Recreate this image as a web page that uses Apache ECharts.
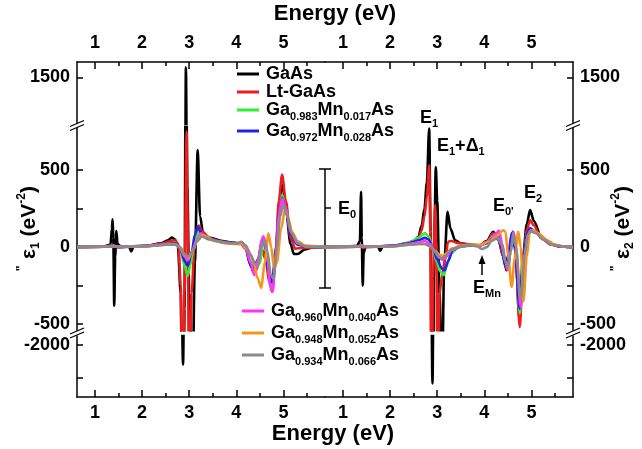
<!DOCTYPE html>
<html>
<head>
<meta charset="utf-8">
<script src="https://cdn.jsdelivr.net/npm/echarts@6.0.0/dist/echarts.min.js"></script>
<style>
  html, body { margin: 0; padding: 0; background: #fff; }
  #chart { width: 642px; height: 449px; }
</style>
</head>
<body>
<div id="chart"></div>
<script>
// ---- data ----
const seriesNames = ['GaAs', 'Lt-GaAs', 'Ga0.983Mn0.017As', 'Ga0.972Mn0.028As',
  'Ga0.960Mn0.040As', 'Ga0.948Mn0.052As', 'Ga0.934Mn0.066As'];
const seriesColors = ['#000000', '#ee1c1c', '#33ee33', '#2222ee', '#ff33ff', '#f7941d', '#8a8a8a'];

const xTicks = [1, 2, 3, 4, 5];
const xMinorTicks = [1.5, 2.5, 3.5, 4.5, 5.5];
const yTicksTop = [1500];
const yTicksMid = [-500, -250, 0, 250, 500];
const yLabelsMid = [-500, 0, 500];
const yTicksBot = [-2500, -2000];
const yLabelsBot = [-2000];

// left panel: second derivative of eps1 (eV^-2), [energy, value]
const L_GaAs = [[0.62,0],[0.9,3],[1.2,5],[1.33,15],[1.36,120],[1.375,180],[1.39,60],[1.41,-380],[1.43,-60],[1.455,105],[1.48,20],[1.55,5],[1.72,5],[1.77,-28],[1.82,2],[2.1,8],[2.4,25],[2.55,45],[2.63,62],[2.7,50],[2.76,0],[2.82,-300],[2.87,-2300],[2.9,-400],[2.93,1565],[2.96,400],[3.0,-300],[3.07,-900],[3.12,-100],[3.18,630],[3.23,200],[3.3,80],[3.45,60],[3.7,40],[3.9,30],[4.05,25],[4.12,30],[4.2,0],[4.3,-120],[4.38,-170],[4.46,-80],[4.55,-20],[4.62,-60],[4.7,-200],[4.76,-270],[4.84,-20],[4.9,250],[4.97,425],[5.05,250],[5.15,20],[5.22,-45],[5.3,-45],[5.45,-15],[5.6,-3],[5.88,0]];
const L_LtGaAs = [[0.62,0],[1.2,3],[1.4,6],[1.5,0],[2.1,8],[2.4,22],[2.6,38],[2.7,45],[2.77,20],[2.82,-250],[2.86,-1300],[2.9,-300],[2.945,750],[2.97,100],[3.0,-1300],[3.05,-300],[3.12,60],[3.2,140],[3.28,100],[3.45,55],[3.7,35],[3.9,25],[4.1,20],[4.2,-10],[4.3,-110],[4.4,-160],[4.48,-110],[4.55,-20],[4.62,-80],[4.7,-230],[4.76,-290],[4.84,0],[4.9,300],[4.97,470],[5.05,300],[5.15,60],[5.25,-10],[5.4,-5],[5.88,0]];
const L_983 = [[0.62,0],[1.2,3],[1.4,8],[1.5,2],[2.1,8],[2.5,20],[2.7,28],[2.8,0],[2.9,-120],[2.97,-185],[3.03,-110],[3.1,20],[3.2,105],[3.27,80],[3.4,50],[3.7,35],[3.9,25],[4.1,22],[4.2,0],[4.3,-90],[4.4,-140],[4.5,-100],[4.58,40],[4.63,10],[4.7,-180],[4.76,-260],[4.84,-30],[4.9,200],[4.97,340],[5.05,250],[5.15,90],[5.3,20],[5.5,3],[5.88,0]];
const L_972 = [[0.62,0],[1.2,3],[1.4,5],[1.5,0],[2.1,8],[2.5,20],[2.7,25],[2.8,0],[2.9,-90],[2.97,-120],[3.05,-40],[3.12,80],[3.18,132],[3.26,90],[3.4,55],[3.7,35],[3.9,25],[4.1,22],[4.2,-10],[4.28,-100],[4.36,-140],[4.46,-80],[4.55,50],[4.6,20],[4.68,-150],[4.76,-230],[4.84,-20],[4.9,200],[4.97,320],[5.05,240],[5.15,80],[5.3,15],[5.5,2],[5.88,0]];
const L_960 = [[0.62,0],[1.2,3],[1.4,10],[1.5,2],[2.1,8],[2.5,18],[2.7,20],[2.8,0],[2.9,-60],[2.97,-85],[3.05,-40],[3.15,40],[3.25,90],[3.33,75],[3.5,45],[3.7,30],[3.9,22],[4.08,25],[4.2,-10],[4.3,-100],[4.38,-182],[4.46,-80],[4.55,60],[4.58,71],[4.65,-50],[4.72,-250],[4.77,-290],[4.84,-50],[4.9,200],[4.97,316],[5.05,250],[5.15,100],[5.3,25],[5.5,3],[5.88,0]];
const L_948 = [[0.62,0],[1.2,2],[1.5,2],[2.1,6],[2.5,15],[2.7,18],[2.8,0],[2.9,-50],[2.98,-70],[3.08,-20],[3.18,50],[3.28,80],[3.38,65],[3.55,40],[3.8,25],[4.0,20],[4.12,20],[4.25,-20],[4.35,-80],[4.45,-200],[4.53,-265],[4.6,-100],[4.68,88],[4.74,0],[4.8,-140],[4.86,-100],[4.95,120],[5.03,240],[5.1,190],[5.18,100],[5.3,40],[5.45,10],[5.88,0]];
const L_934 = [[0.62,0],[1.2,3],[1.5,3],[2.1,6],[2.5,15],[2.7,15],[2.8,0],[2.9,-45],[2.97,-63],[3.07,-25],[3.17,40],[3.27,70],[3.35,60],[3.55,40],[3.8,28],[4.0,22],[4.1,35],[4.2,10],[4.3,-50],[4.4,-110],[4.46,-120],[4.53,0],[4.6,50],[4.66,-30],[4.73,-180],[4.79,-205],[4.86,0],[4.93,200],[4.99,273],[5.07,210],[5.17,90],[5.3,25],[5.5,3],[5.88,0]];

// right panel: second derivative of eps2 (eV^-2)
const R_GaAs = [[0.62,0],[1.0,3],[1.3,8],[1.36,40],[1.385,360],[1.40,60],[1.42,-250],[1.44,-40],[1.48,5],[1.74,5],[1.79,-25],[1.84,3],[2.1,10],[2.35,25],[2.5,40],[2.6,65],[2.67,140],[2.73,250],[2.78,420],[2.83,770],[2.86,100],[2.9,-2590],[2.93,-200],[2.97,520],[3.0,300],[3.05,-300],[3.1,-900],[3.15,-100],[3.22,230],[3.28,120],[3.38,45],[3.5,25],[3.7,15],[3.9,12],[4.05,40],[4.19,100],[4.3,50],[4.4,-60],[4.47,-150],[4.54,-30],[4.6,100],[4.66,0],[4.74,-460],[4.82,-60],[4.9,150],[4.97,240],[5.05,170],[5.2,70],[5.4,20],[5.6,5],[5.88,0]];
const R_LtGaAs = [[0.62,0],[1.3,3],[1.39,15],[1.42,-5],[1.5,0],[2.1,8],[2.35,22],[2.5,35],[2.6,55],[2.67,110],[2.73,200],[2.78,330],[2.83,532],[2.855,100],[2.88,-1300],[2.91,-200],[2.955,273],[2.98,50],[3.01,-1200],[3.05,-300],[3.1,-190],[3.17,-80],[3.23,35],[3.3,40],[3.45,25],[3.7,15],[3.9,12],[4.05,35],[4.19,90],[4.3,45],[4.4,-60],[4.47,-140],[4.54,-30],[4.6,95],[4.66,0],[4.75,-520],[4.83,-60],[4.9,110],[4.97,175],[5.05,140],[5.2,60],[5.4,18],[5.6,4],[5.88,0]];
const R_983 = [[0.62,0],[1.3,3],[1.4,10],[1.5,2],[2.1,10],[2.4,30],[2.6,60],[2.74,91],[2.82,70],[2.9,0],[2.98,-90],[3.07,-160],[3.14,-182],[3.2,-120],[3.3,-40],[3.45,0],[3.7,12],[3.9,12],[4.05,30],[4.2,75],[4.3,85],[4.38,10],[4.46,-110],[4.52,-60],[4.6,90],[4.66,-20],[4.75,-430],[4.84,-50],[4.91,90],[4.97,122],[5.08,100],[5.25,50],[5.45,15],[5.7,3],[5.88,0]];
const R_972 = [[0.62,0],[1.3,3],[1.4,6],[1.5,2],[2.1,10],[2.4,25],[2.6,45],[2.74,60],[2.82,50],[2.9,0],[3.0,-80],[3.1,-140],[3.16,-150],[3.23,-90],[3.33,-20],[3.5,5],[3.7,10],[3.9,10],[4.05,25],[4.2,65],[4.28,70],[4.36,0],[4.44,-120],[4.5,-60],[4.58,90],[4.64,0],[4.75,-400],[4.84,-40],[4.91,95],[4.97,122],[5.08,100],[5.25,50],[5.45,15],[5.7,3],[5.88,0]];
const R_960 = [[0.62,0],[1.3,3],[1.4,12],[1.5,2],[2.1,8],[2.4,20],[2.6,30],[2.74,40],[2.85,20],[2.95,-30],[3.05,-70],[3.12,-84],[3.2,-60],[3.3,-20],[3.5,5],[3.7,12],[3.9,10],[4.1,40],[4.25,90],[4.31,108],[4.38,20],[4.45,-100],[4.5,-150],[4.56,-20],[4.62,100],[4.67,0],[4.77,-390],[4.86,-40],[4.92,80],[4.98,110],[5.1,95],[5.25,50],[5.45,15],[5.7,3],[5.88,0]];
const R_948 = [[0.62,0],[1.3,2],[1.5,2],[2.1,6],[2.4,15],[2.6,20],[2.74,20],[2.85,5],[2.95,-25],[3.05,-50],[3.12,-58],[3.2,-40],[3.3,-10],[3.5,10],[3.7,15],[3.9,15],[4.1,35],[4.25,70],[4.4,110],[4.45,100],[4.5,-50],[4.58,-258],[4.64,-80],[4.72,100],[4.77,0],[4.83,-350],[4.9,-60],[4.96,90],[5.02,110],[5.15,90],[5.3,50],[5.5,15],[5.7,4],[5.88,0]];
const R_934 = [[0.62,0],[1.3,3],[1.5,3],[2.1,6],[2.4,15],[2.6,20],[2.74,20],[2.85,5],[2.95,-30],[3.05,-65],[3.1,-75],[3.18,-55],[3.3,-15],[3.5,5],[3.7,12],[3.85,5],[3.95,-12],[4.05,0],[4.15,40],[4.28,60],[4.36,20],[4.44,-90],[4.5,-130],[4.56,-30],[4.62,90],[4.67,0],[4.77,-346],[4.86,-40],[4.92,80],[4.98,103],[5.1,90],[5.25,50],[5.45,15],[5.7,3],[5.88,0]];

const leftPanel = [L_GaAs, L_LtGaAs, L_983, L_972, L_960, L_948, L_934];
const rightPanel = [R_GaAs, R_LtGaAs, R_983, R_972, R_960, R_948, R_934];

// ---- layout ----
const FONT = '"Liberation Sans", Arial, Helvetica, sans-serif';
const X_MIN = 0.62, X_MAX = 5.88;
const PANEL_LEFT = [77, 325];
const PANEL_W = 248;
// broken y axis: three stacked pieces
const pieces = [
  { top: 62, height: 62, min: 1200, max: 1600, ticks: yTicksTop, labels: yTicksTop },
  { top: 127, height: 203.3, min: -540, max: 780, ticks: yTicksMid, labels: yLabelsMid },
  { top: 336, height: 61, min: -2800, max: -1860, ticks: yTicksBot, labels: yLabelsBot }
];

const axisLineStyle = { color: '#000', width: 1.5 };
const labelStyle = { color: '#000', fontFamily: FONT, fontWeight: 'bold', fontSize: 18 };

const grid = [], xAxis = [], yAxis = [], series = [];

const yNameRich = {
  b: { fontFamily: FONT, fontWeight: 'bold', fontSize: 21, lineHeight: 26, color: '#000' },
  s: { fontFamily: FONT, fontWeight: 'bold', fontSize: 12, lineHeight: 6, verticalAlign: 'bottom', color: '#000' },
  t: { fontFamily: FONT, fontWeight: 'bold', fontSize: 12, lineHeight: 6, verticalAlign: 'top', color: '#000' }
};

[0, 1].forEach(p => {
  pieces.forEach((pc, s) => {
    const g = grid.length;
    grid.push({ left: PANEL_LEFT[p], width: PANEL_W, top: pc.top, height: pc.height, containLabel: false });

    const xa = {
      type: 'value', gridIndex: g, min: X_MIN, max: X_MAX, splitLine: { show: false },
      axisLine: { show: false, onZero: false }, axisTick: { show: false }, axisLabel: { show: false }
    };
    if (s !== 1) {
      xa.position = s === 0 ? 'top' : 'bottom';
      xa.axisLine = { show: true, onZero: false, lineStyle: axisLineStyle };
      xa.axisTick = { show: true, inside: true, length: 7, customValues: xTicks, lineStyle: axisLineStyle };
      xa.axisLabel = Object.assign({ show: true, customValues: xTicks, margin: s === 0 ? 10 : 7 }, labelStyle);
    }
    const xi = xAxis.length;
    xAxis.push(xa);
    if (s !== 1) {
      xAxis.push({
        type: 'value', gridIndex: g, min: X_MIN, max: X_MAX, position: s === 0 ? 'top' : 'bottom',
        splitLine: { show: false }, axisLine: { show: false, onZero: false },
        axisTick: { show: true, inside: true, length: 4, customValues: xMinorTicks, lineStyle: axisLineStyle },
        axisLabel: { show: false }
      });
    }

    const ya = {
      type: 'value', gridIndex: g, min: pc.min, max: pc.max, position: p === 0 ? 'left' : 'right',
      splitLine: { show: false },
      axisLine: { show: true, onZero: false, lineStyle: axisLineStyle },
      axisTick: { show: true, inside: true, length: 6, customValues: pc.ticks, lineStyle: axisLineStyle },
      axisLabel: Object.assign({ show: true, customValues: pc.labels, margin: 7, formatter: v => String(v) }, labelStyle)
    };
    if (s === 1) {
      ya.name = p === 0 ? '{t|"  }{b|ε}{s|1}{b| (eV}{t|-2}{b|)}' : '{t|"  }{b|ε}{s|2}{b| (eV}{t|-2}{b|)}';
      ya.nameLocation = 'middle';
      ya.nameRotate = 90;
      ya.nameGap = p === 0 ? 35 : 37;
      ya.nameMoveOverlap = false;
      ya.nameTextStyle = { rich: yNameRich };
    }
    const yi = yAxis.length;
    yAxis.push(ya);

    const panelData = p === 0 ? leftPanel : rightPanel;
    panelData.forEach((d, i) => {
      series.push({
        type: 'line', name: seriesNames[i], data: d, xAxisIndex: xi, yAxisIndex: yi,
        symbol: 'none', showSymbol: false, smooth: 0.3, smoothMonotone: 'x', clip: true,
        lineStyle: { color: seriesColors[i], width: 2.6 }, itemStyle: { color: seriesColors[i] },
        silent: true
      });
    });
  });
});

// legends
function legendText(name) {
  return '{b|' + name.replace(/(\d\.\d+)/g, '}{s|$1}{b|') + '}';
}
const legendRich = {
  b: { fontFamily: FONT, fontWeight: 'bold', fontSize: 18, lineHeight: 24, color: '#000' },
  s: { fontFamily: FONT, fontWeight: 'bold', fontSize: 11, lineHeight: 6, verticalAlign: 'bottom', color: '#000' }
};
function makeLegend(names, left, top, gap) {
  return {
    data: names, orient: 'vertical', left, top, itemGap: gap, itemWidth: 22, itemHeight: 3,
    icon: 'rect', selectedMode: false, padding: 0, formatter: legendText,
    textStyle: { rich: legendRich, padding: [0, 0, 0, 2] }
  };
}

// annotations
const annRich = {
  b: { fontFamily: FONT, fontWeight: 'bold', fontSize: 18, lineHeight: 22, fill: '#000' },
  s: { fontFamily: FONT, fontWeight: 'bold', fontSize: 11, lineHeight: 6, verticalAlign: 'bottom', fill: '#000' }
};
function ann(x, y, text) {
  return { type: 'text', x, y, z: 50, silent: true, style: { text, rich: annRich, align: 'left', verticalAlign: 'top' } };
}
const graphic = [
  { type: 'text', x: 335, y: 14, silent: true, style: { text: 'Energy (eV)', font: 'bold 22px ' + FONT, fill: '#000', align: 'center', verticalAlign: 'middle' } },
  { type: 'text', x: 333, y: 434, silent: true, style: { text: 'Energy (eV)', font: 'bold 22px ' + FONT, fill: '#000', align: 'center', verticalAlign: 'middle' } },
  ann(420, 107, '{b|E}{s|1}'),
  ann(437, 135, '{b|E}{s|1}{b|+Δ}{s|1}'),
  ann(338, 198, '{b|E}{s|0}'),
  ann(493, 195, "{b|E}{s|0'}"),
  ann(524, 182, '{b|E}{s|2}'),
  ann(473, 277, '{b|E}{s|Mn}'),
  { type: 'line', silent: true, shape: { x1: 482, y1: 275, x2: 482, y2: 262 }, style: { stroke: '#000', lineWidth: 1.5 } },
  { type: 'polygon', silent: true, shape: { points: [[478.5, 264], [485.5, 264], [482, 255]] }, style: { fill: '#000' } },
  // stray axis piece at the panel joint
  { type: 'polyline', silent: true, shape: { points: [[325, 169], [325, 288]] }, style: { stroke: '#000', lineWidth: 1.5, fill: null } },
  { type: 'line', silent: true, shape: { x1: 319, y1: 169, x2: 331, y2: 169 }, style: { stroke: '#000', lineWidth: 1.5 } },
  { type: 'line', silent: true, shape: { x1: 325, y1: 208, x2: 331, y2: 208 }, style: { stroke: '#000', lineWidth: 1.5 } },
  { type: 'line', silent: true, shape: { x1: 319, y1: 288, x2: 331, y2: 288 }, style: { stroke: '#000', lineWidth: 1.5 } }
];
// axis break marks
[[77, 125.5], [77, 333], [573, 125.5], [573, 333]].forEach(([cx, cy]) => {
  graphic.push({ type: 'polygon', z: 100, silent: true, shape: { points: [[cx - 7, cy + 1], [cx + 7, cy - 5], [cx + 7, cy - 1], [cx - 7, cy + 5]] }, style: { fill: '#fff' } });
  graphic.push({ type: 'line', z: 101, silent: true, shape: { x1: cx - 7, y1: cy + 1, x2: cx + 7, y2: cy - 5 }, style: { stroke: '#000', lineWidth: 1.3 } });
  graphic.push({ type: 'line', z: 101, silent: true, shape: { x1: cx - 7, y1: cy + 5, x2: cx + 7, y2: cy - 1 }, style: { stroke: '#000', lineWidth: 1.3 } });
});

const chart = echarts.init(document.getElementById('chart'));
chart.setOption({
  animation: false,
  backgroundColor: '#fff',
  grid, xAxis, yAxis, series,
  legend: [
    makeLegend(seriesNames.slice(0, 4), 237, 65, 0),
    makeLegend(seriesNames.slice(4), 242, 302, 1)
  ],
  graphic
});
</script>
</body>
</html>
